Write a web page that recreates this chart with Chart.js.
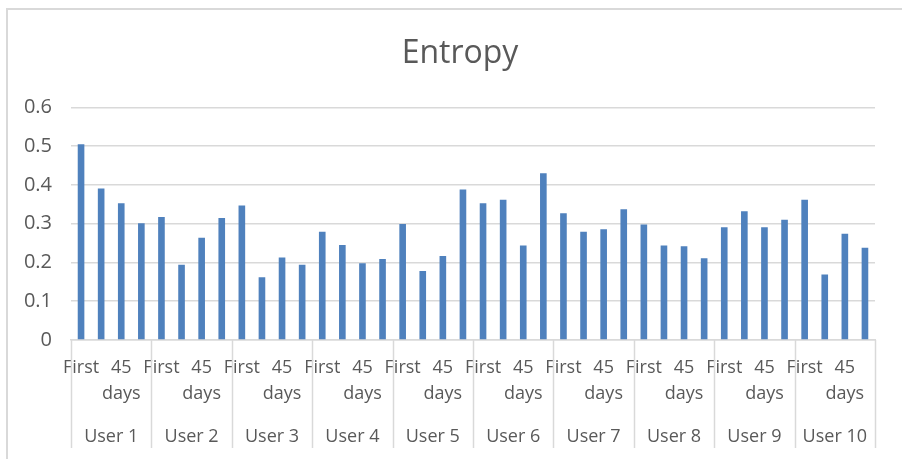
<!DOCTYPE html>
<html>
<head>
<meta charset="utf-8">
<script src="https://cdn.jsdelivr.net/npm/chart.js@4/dist/chart.umd.min.js"></script>
<style>
  html, body { margin: 0; padding: 0; background: #fff; overflow: hidden; }
  #frame {
    position: absolute; left: 6px; top: 8px;
    width: 1000px; height: 1000px;
    border: 2px solid #d9d9d9;
  }
  #wrap { position: absolute; left: 0; top: 0; width: 902px; height: 459px; }
</style>
</head>
<body>
<div id="frame"></div>
<div id="wrap"><canvas id="entropyChart" width="902" height="459"></canvas></div>
<script>
// Data
const users = ['User 1', 'User 2', 'User 3', 'User 4', 'User 5',
               'User 6', 'User 7', 'User 8', 'User 9', 'User 10'];
const phaseLabels = ['First', '', '45 days', ''];

const user1 = [0.505, 0.391, 0.353, 0.301];
const user2 = [0.317, 0.194, 0.264, 0.315];
const user3 = [0.347, 0.162, 0.213, 0.194];
const user4 = [0.279, 0.245, 0.198, 0.209];
const user5 = [0.299, 0.178, 0.217, 0.388];
const user6 = [0.353, 0.362, 0.244, 0.430];
const user7 = [0.327, 0.279, 0.286, 0.337];
const user8 = [0.298, 0.244, 0.242, 0.211];
const user9 = [0.291, 0.332, 0.291, 0.310];
const user10 = [0.362, 0.169, 0.274, 0.238];

const yTicks = [0, 0.1, 0.2, 0.3, 0.4, 0.5, 0.6];

// Flatten into one category per bar
const perUser = [user1, user2, user3, user4, user5, user6, user7, user8, user9, user10];
const labels = [];
const values = [];
perUser.forEach(vals => {
    vals.forEach((v, i) => {
        labels.push(phaseLabels[i]);
        values.push(v);
    });
});

const TEXT = '#595959';
const GRID = '#d9d9d9';
const FONT = "'Open Sans', sans-serif";

/**
 * Outer category level: separators and user names under the inner labels
 */
const userLevel = {
    id: 'userLevel',
    afterDraw(chart) {
        const x = chart.scales.x;
        const area = chart.chartArea;
        const ctx = chart.ctx;
        const n = phaseLabels.length;
        const half = (x.getPixelForValue(1) - x.getPixelForValue(0)) / 2;
        const bottom = 448;

        ctx.save();
        ctx.strokeStyle = GRID;
        ctx.lineWidth = 1.5;
        for (let g = 0; g <= users.length; g++) {
            let px;
            if (g === users.length) px = x.getPixelForValue(g * n - 1) + half;
            else px = x.getPixelForValue(g * n) - half;
            px = Math.round(px) + 0.5;
            ctx.beginPath();
            ctx.moveTo(px, area.bottom);
            ctx.lineTo(px, bottom);
            ctx.stroke();
        }

        ctx.fillStyle = TEXT;
        ctx.font = `18px ${FONT}`;
        ctx.textAlign = 'center';
        ctx.textBaseline = 'middle';
        users.forEach((u, g) => {
            const left = x.getPixelForValue(g * n) - half;
            const right = x.getPixelForValue(g * n + n - 1) + half;
            ctx.fillText(u, (left + right) / 2, 437);
        });
        ctx.restore();
    }
};

const ctx = document.getElementById('entropyChart').getContext('2d');
new Chart(ctx, {
    type: 'bar',
    data: {
        labels: labels,
        datasets: [{
            label: 'Entropy',
            data: values,
            backgroundColor: '#4f81bd',
            borderWidth: 0,
            barPercentage: 0.66,
            categoryPercentage: 0.5
        }]
    },
    options: {
        responsive: false,
        animation: false,
        layout: { padding: { left: 18, right: 0, top: 0, bottom: 0 } },
        plugins: {
            legend: { display: false },
            tooltip: { enabled: false },
            title: {
                display: true,
                text: 'Entropy',
                color: TEXT,
                font: { family: FONT, size: 32, weight: 'normal', lineHeight: 1.2 },
                padding: { top: 35, bottom: 34 }
            }
        },
        scales: {
            x: {
                grid: { display: false, drawTicks: false },
                border: { display: true, color: GRID, width: 1.5 },
                ticks: {
                    autoSkip: false,
                    maxRotation: 0,
                    minRotation: 0,
                    padding: 15,
                    color: TEXT,
                    font: { family: FONT, size: 18, lineHeight: 1.45 },
                    callback: function (val, i) {
                        const l = labels[i];
                        return l.indexOf(' ') >= 0 ? l.split(' ') : l;
                    }
                },
                afterFit: s => { s.height = 119; }
            },
            y: {
                min: 0,
                max: 0.6,
                afterBuildTicks: s => { s.ticks = yTicks.map(v => ({ value: v })); },
                grid: { color: GRID, lineWidth: 1.5, drawTicks: false },
                border: { display: false },
                ticks: {
                    padding: 19,
                    color: TEXT,
                    font: { family: FONT, size: 20 },
                    callback: v => (v === 0 ? '0' : v.toFixed(1))
                },
                afterFit: s => { s.width = 53; }
            },
            // empty right-hand space so the title centres like the original
            yRight: {
                position: 'right',
                grid: { display: false, drawTicks: false },
                border: { display: false },
                ticks: { display: false },
                afterFit: s => { s.width = 27; }
            }
        }
    },
    plugins: [userLevel]
});
</script>
</body>
</html>
